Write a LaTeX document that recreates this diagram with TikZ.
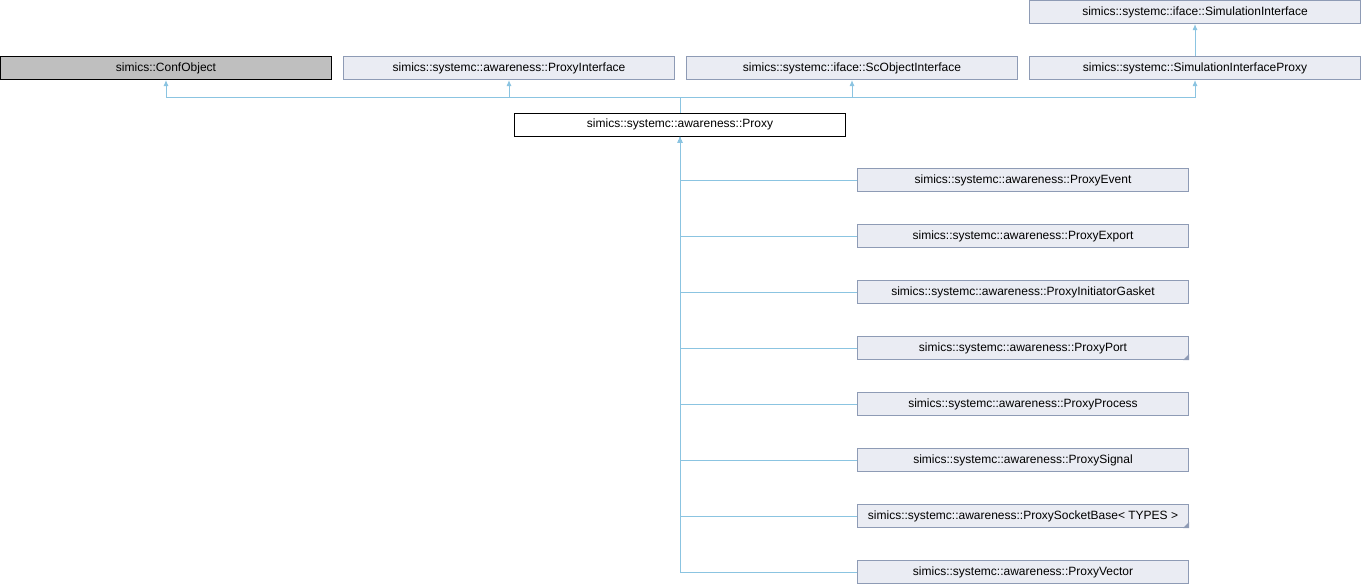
\documentclass[tikz,border=0pt]{standalone}
\usepackage{fontspec}
\setmainfont{Liberation Sans}
\usepackage{tikz}
\usetikzlibrary{positioning, arrows.meta, calc}
\usepackage{xcolor}
\definecolor{edge-blue}{HTML}{8BC4E1}
\definecolor{box-fill}{HTML}{EAECF3}
\definecolor{box-line}{HTML}{8E9BB5}
\definecolor{ext-grey}{HTML}{BFBFBF}

\begin{document}
\begin{tikzpicture}[x=1pt, y=-1pt,
		cls/.style={draw=box-line, fill=box-fill, line width=1pt, minimum width=331pt, minimum height=23pt, inner sep=0pt, font=\fontsize{12}{14}\selectfont},
		extcls/.style={cls, draw=black, fill=ext-grey},
		cur/.style={cls, draw=black, fill=white},
		inh/.style={draw=edge-blue, line width=1pt, -{Latex[length=6pt, width=5pt]}}]
	\useasboundingbox (0,0) rectangle (1362,584);

	% parents
	\node[extcls] at (166, 68) (conf) {simics::ConfObject};
	\node[cls] at (509, 68) (pif) {simics::systemc::awareness::ProxyInterface};
	\node[cls] at (852, 68) (scif) {simics::systemc::iface::ScObjectInterface};
	\node[cls] at (1195, 68) (simproxy) {simics::systemc::SimulationInterfaceProxy};
	\node[cls] at (1195, 12) (simif) {simics::systemc::iface::SimulationInterface};

	\node[cur] at (680, 124.5) (proxy) {simics::systemc::awareness::Proxy};

	% children
	\node[cls] at (1023, 180) (event) {simics::systemc::awareness::ProxyEvent};
	\node[cls] at (1023, 236) (export) {simics::systemc::awareness::ProxyExport};
	\node[cls] at (1023, 292) (gasket) {simics::systemc::awareness::ProxyInitiatorGasket};
	\node[cls] at (1023, 348) (port) {simics::systemc::awareness::ProxyPort};
	\node[cls] at (1023, 404) (process) {simics::systemc::awareness::ProxyProcess};
	\node[cls] at (1023, 460) (signal) {simics::systemc::awareness::ProxySignal};
	\node[cls] at (1023, 516) (socket) {simics::systemc::awareness::ProxySocketBase\textless{} TYPES \textgreater};
	\node[cls] at (1023, 572) (vector) {simics::systemc::awareness::ProxyVector};

	% truncated marks
	\fill[box-line] (port.south east) -- ++(-6, 0) -- ++(6, -6) -- cycle;
	\fill[box-line] (socket.south east) -- ++(-6, 0) -- ++(6, -6) -- cycle;

	% inheritance
	\coordinate (joint) at (680, 97);
	\draw[inh] (simproxy.north) -- (simif.south);
	\draw[inh] (proxy.north) -- (joint) -| (conf.south);
	\draw[inh] (proxy.north) -- (joint) -| (pif.south);
	\draw[inh] (proxy.north) -- (joint) -| (scif.south);
	\draw[inh] (proxy.north) -- (joint) -| (simproxy.south);
	\foreach \c in {event, export, gasket, port, process, signal, socket, vector}
		\draw[inh] (\c.west) -| (proxy.south);
\end{tikzpicture}
\end{document}
